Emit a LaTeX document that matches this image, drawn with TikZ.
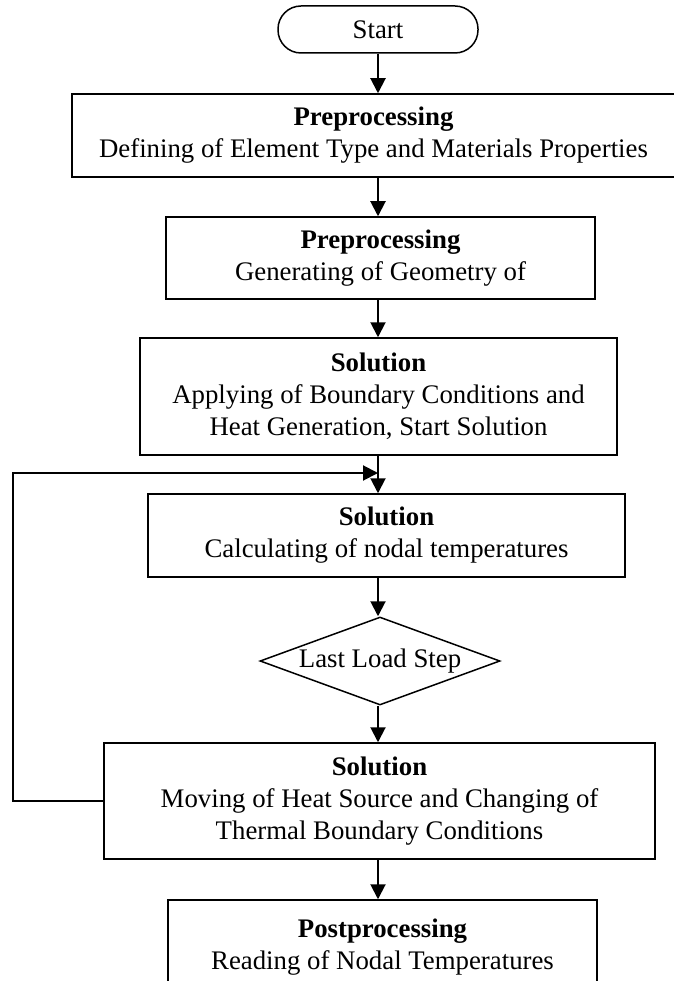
\documentclass[tikz,border=0pt]{standalone}
\usepackage{fontspec}
\setmainfont{Liberation Serif}
\usetikzlibrary{shapes.geometric,arrows.meta}
\begin{document}
\begin{tikzpicture}[x=1pt,y=-1pt,
  box/.style={draw, line width=1.5pt, rectangle, inner sep=0pt, align=center,
    font=\fontsize{26.8pt}{32pt}\selectfont},
  term/.style={box, rounded corners=23pt},
  dec/.style={draw, line width=1.5pt, diamond, aspect=2.7, inner sep=0pt,
    minimum width=240pt, minimum height=88pt, font=\fontsize{26.8pt}{32pt}\selectfont},
  arr/.style={line width=2pt, -{Triangle[length=15pt,width=15pt]}},
  lin/.style={line width=1.8pt}]
\useasboundingbox (0,0) rectangle (673,981);
\node[term, minimum width=200pt, minimum height=47pt] (start) at (378,29.5) {Start};
\node[box, minimum width=603pt, minimum height=83pt] (b1) at (373.5,135.5)
  {\textbf{Preprocessing}\\Defining of Element Type and Materials Properties};
\node[box, minimum width=429pt, minimum height=82pt] (b2) at (380.5,258)
  {\textbf{Preprocessing}\\Generating of Geometry of};
\node[box, minimum width=477pt, minimum height=117pt] (b3) at (378.5,396.5)
  {\textbf{Solution}\\Applying of Boundary Conditions and\\Heat Generation, Start Solution};
\node[box, minimum width=477pt, minimum height=83pt] (b4) at (386.5,535.5)
  {\textbf{Solution}\\Calculating of nodal temperatures};
\node[dec] (d) at (380,661) {Last Load Step};
\node[box, minimum width=551pt, minimum height=116pt] (b5) at (379.5,801)
  {\textbf{Solution}\\Moving of Heat Source and Changing of\\Thermal Boundary Conditions};
\node[box, minimum width=429pt, minimum height=95pt] (b6) at (382.5,947.5)
  {\textbf{Postprocessing}\\Reading of Nodal Temperatures};
\coordinate (ax) at (378,0);
\coordinate (lx) at (13,0);
\draw[arr] (start.south -| ax) -- (b1.north -| ax);
\draw[arr] (b1.south -| ax) -- (b2.north -| ax);
\draw[arr] (b2.south -| ax) -- (b3.north -| ax);
\draw[arr] (b3.south -| ax) -- (b4.north -| ax);
\draw[arr] (b4.south -| ax) -- (d.north -| ax);
\draw[arr] (d.south -| ax) -- (b5.north -| ax);
\draw[arr] (b5.south -| ax) -- (b6.north -| ax);
\coordinate (lp) at (0,473);
\draw[lin] (b5.west) -- (b5.west -| lx) -- (lx |- lp) -- ([xshift=-6pt]ax |- lp);
\draw[arr] ([xshift=-60pt]ax |- lp) -- (ax |- lp);
\end{tikzpicture}
\end{document}
